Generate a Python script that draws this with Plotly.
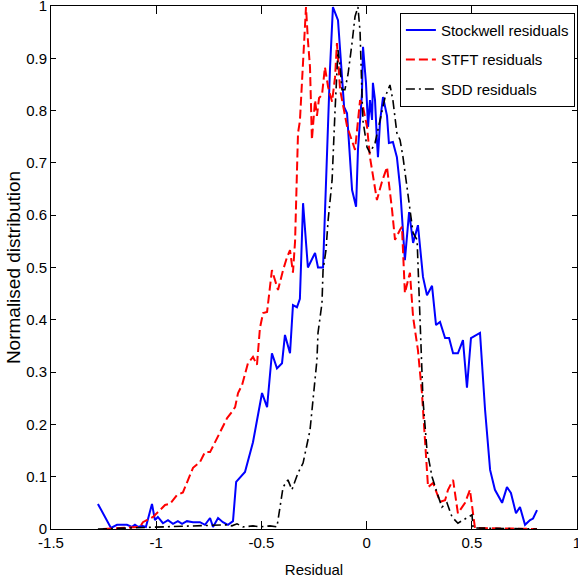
import plotly.graph_objects as go

# ---- data ----
stockwell_x = [-1.277, -1.253, -1.215, -1.186, -1.139, -1.115, -1.101, -1.087, -1.067, -1.049,
               -1.020, -1.006, -0.992, -0.968, -0.944, -0.920, -0.897, -0.877, -0.854, -0.825,
               -0.792, -0.768, -0.744, -0.730, -0.706, -0.683, -0.659, -0.635, -0.620, -0.578,
               -0.540, -0.497, -0.473, -0.450, -0.426, -0.402, -0.388, -0.364, -0.350, -0.331,
               -0.317, -0.302, -0.279, -0.245, -0.231, -0.207, -0.188, -0.174, -0.160, -0.136,
               -0.117, -0.107, -0.093, -0.079, -0.069, -0.050, -0.041, -0.022, -0.017, -0.003,
               0.007, 0.016, 0.026, 0.030, 0.040, 0.049, 0.054, 0.064, 0.078, 0.097,
               0.106, 0.125, 0.144, 0.159, 0.173, 0.182, 0.202, 0.221, 0.244, 0.268,
               0.287, 0.311, 0.330, 0.349, 0.373, 0.392, 0.411, 0.434, 0.458, 0.477,
               0.496, 0.539, 0.563, 0.587, 0.610, 0.644, 0.667, 0.686, 0.710, 0.729,
               0.753, 0.777, 0.791, 0.810]
stockwell_y = [0.048, 0.030, 0.002, 0.008, 0.008, 0.004, 0.008, 0.004, 0.006, 0.004,
               0.048, 0.017, 0.023, 0.011, 0.017, 0.010, 0.015, 0.010, 0.015, 0.013,
               0.013, 0.008, 0.021, 0.004, 0.021, 0.013, 0.008, 0.015, 0.090, 0.109,
               0.166, 0.260, 0.233, 0.336, 0.307, 0.317, 0.371, 0.336, 0.428, 0.424,
               0.440, 0.623, 0.500, 0.528, 0.500, 0.500, 0.725, 0.880, 0.998, 0.973,
               0.865, 0.807, 0.795, 0.711, 0.648, 0.616, 0.725, 0.833, 0.922, 0.853,
               0.769, 0.820, 0.782, 0.853, 0.820, 0.744, 0.711, 0.780, 0.826, 0.790,
               0.738, 0.740, 0.711, 0.654, 0.566, 0.514, 0.606, 0.547, 0.581, 0.482,
               0.447, 0.465, 0.390, 0.396, 0.365, 0.365, 0.336, 0.336, 0.361, 0.270,
               0.365, 0.375, 0.228, 0.113, 0.075, 0.050, 0.080, 0.069, 0.030, 0.042,
               0.008, 0.017, 0.020, 0.036]

stft_x = [-1.253, -1.077, -1.063, -1.015, -0.982, -0.958, -0.934, -0.901, -0.873, -0.849,
          -0.825, -0.792, -0.768, -0.744, -0.721, -0.687, -0.663, -0.640, -0.625, -0.611,
          -0.592, -0.564, -0.540, -0.521, -0.507, -0.492, -0.473, -0.450, -0.435, -0.421,
          -0.397, -0.378, -0.364, -0.350, -0.340, -0.326, -0.317, -0.302, -0.288, -0.279,
          -0.269, -0.260, -0.245, -0.236, -0.226, -0.212, -0.198, -0.183, -0.164, -0.150,
          -0.141, -0.126, -0.112, -0.093, -0.055, -0.031, -0.017, 0.002, 0.016, 0.049,
          0.073, 0.097, 0.121, 0.135, 0.159, 0.168, 0.182, 0.206, 0.221, 0.244,
          0.263, 0.278, 0.292, 0.316, 0.349, 0.373, 0.387, 0.411, 0.434, 0.468,
          0.491, 0.515, 0.810]
stft_y = [0.000, 0.004, 0.013, 0.023, 0.036, 0.046, 0.048, 0.065, 0.070, 0.094,
          0.117, 0.128, 0.147, 0.147, 0.166, 0.193, 0.212, 0.224, 0.233, 0.260,
          0.275, 0.317, 0.329, 0.314, 0.384, 0.413, 0.415, 0.495, 0.475, 0.457,
          0.495, 0.520, 0.533, 0.490, 0.550, 0.757, 0.780, 0.897, 0.998, 0.935,
          0.883, 0.744, 0.820, 0.790, 0.824, 0.830, 0.883, 0.845, 0.817, 0.864,
          0.929, 0.840, 0.807, 0.770, 0.725, 0.820, 0.807, 0.769, 0.711, 0.629,
          0.664, 0.692, 0.610, 0.553, 0.572, 0.578, 0.451, 0.490, 0.405, 0.342,
          0.260, 0.170, 0.080, 0.088, 0.052, 0.055, 0.075, 0.094, 0.030, 0.050,
          0.075, 0.002, 0.000]

sdd_x = [-1.277, -0.663, -0.640, -0.616, -0.587, -0.540, -0.507, -0.459, -0.426, -0.397,
         -0.374, -0.355, -0.326, -0.302, -0.269, -0.255, -0.236, -0.231, -0.212, -0.207,
         -0.193, -0.183, -0.164, -0.150, -0.136, -0.126, -0.117, -0.103, -0.088, -0.069,
         -0.055, -0.041, -0.031, -0.022, -0.017, 0.002, 0.016, 0.040, 0.064, 0.088,
         0.111, 0.125, 0.144, 0.159, 0.173, 0.192, 0.206, 0.221, 0.240, 0.249,
         0.259, 0.263, 0.268, 0.287, 0.311, 0.335, 0.358, 0.382, 0.406, 0.420,
         0.434, 0.458, 0.482, 0.501, 0.506, 0.810]
sdd_y = [0.000, 0.008, 0.006, 0.010, 0.004, 0.006, 0.004, 0.006, 0.004, 0.080,
         0.094, 0.075, 0.107, 0.126, 0.189, 0.252, 0.323, 0.375, 0.432, 0.495,
         0.533, 0.590, 0.667, 0.800, 0.916, 0.883, 0.840, 0.840, 0.870, 0.930,
         0.980, 0.998, 0.950, 0.830, 0.780, 0.730, 0.719, 0.738, 0.780, 0.826,
         0.849, 0.820, 0.757, 0.744, 0.711, 0.654, 0.604, 0.566, 0.553, 0.450,
         0.375, 0.310, 0.247, 0.151, 0.100, 0.069, 0.042, 0.050, 0.023, 0.017,
         0.011, 0.017, 0.023, 0.027, 0.002, 0.000]

series_names = ["Stockwell residuals", "STFT residuals", "SDD residuals"]
x_ticks = [-1.5, -1, -0.5, 0, 0.5, 1]
x_tick_labels = ["-1.5", "-1", "-0.5", "0", "0.5", "1"]
y_ticks = [0, 0.1, 0.2, 0.3, 0.4, 0.5, 0.6, 0.7, 0.8, 0.9, 1]
y_tick_labels = ["0", "0.1", "0.2", "0.3", "0.4", "0.5", "0.6", "0.7", "0.8", "0.9", "1"]

FONT = "Liberation Sans, Arial, sans-serif"

fig = go.Figure()
fig.add_trace(go.Scatter(x=stockwell_x, y=stockwell_y, mode="lines", name=series_names[0],
                         legendgroup="a", line=dict(color="#0000ff", width=2)))
fig.add_trace(go.Scatter(x=stft_x, y=stft_y, mode="lines", name=series_names[1],
                         legendgroup="b", line=dict(color="#ff0000", width=2, dash="9px,4px")))
fig.add_trace(go.Scatter(x=sdd_x, y=sdd_y, mode="lines", name=series_names[2],
                         legendgroup="c",
                         line=dict(color="#000000", width=1.6, dash="9px,4px,2px,4px")))

fig.update_layout(
    width=578, height=581,
    margin=dict(l=51, r=1, t=6, b=52),
    paper_bgcolor="white", plot_bgcolor="white",
    font=dict(family=FONT, size=15, color="black"),
    showlegend=True,
    legend=dict(x=0.996, y=0.987, xanchor="right", yanchor="top",
                bgcolor="white", bordercolor="black", borderwidth=1,
                font=dict(family=FONT, size=15, color="black"),
                itemwidth=30, tracegroupgap=7),
    xaxis=dict(range=[-1.5, 1], tickmode="array", tickvals=x_ticks, ticktext=x_tick_labels,
               ticks="inside", ticklen=8, tickcolor="black", showline=True, linecolor="black",
               linewidth=1, mirror="ticks", showgrid=False, zeroline=False, automargin=False,
               ticklabeloverflow="allow",
               title=dict(text="Residual", font=dict(family=FONT, size=15), standoff=14),
               tickfont=dict(family=FONT, size=15)),
    yaxis=dict(range=[0, 1], tickmode="array", tickvals=y_ticks, ticktext=y_tick_labels,
               ticks="inside", ticklen=5, tickcolor="black", showline=True, linecolor="black",
               linewidth=1, mirror="ticks", showgrid=False, zeroline=False, automargin=False,
               ticklabeloverflow="allow",
               title=dict(text="Normalised distribution",
                          font=dict(family=FONT, size=19), standoff=0),
               tickfont=dict(family=FONT, size=15)),
)

fig.write_html("out.html")
